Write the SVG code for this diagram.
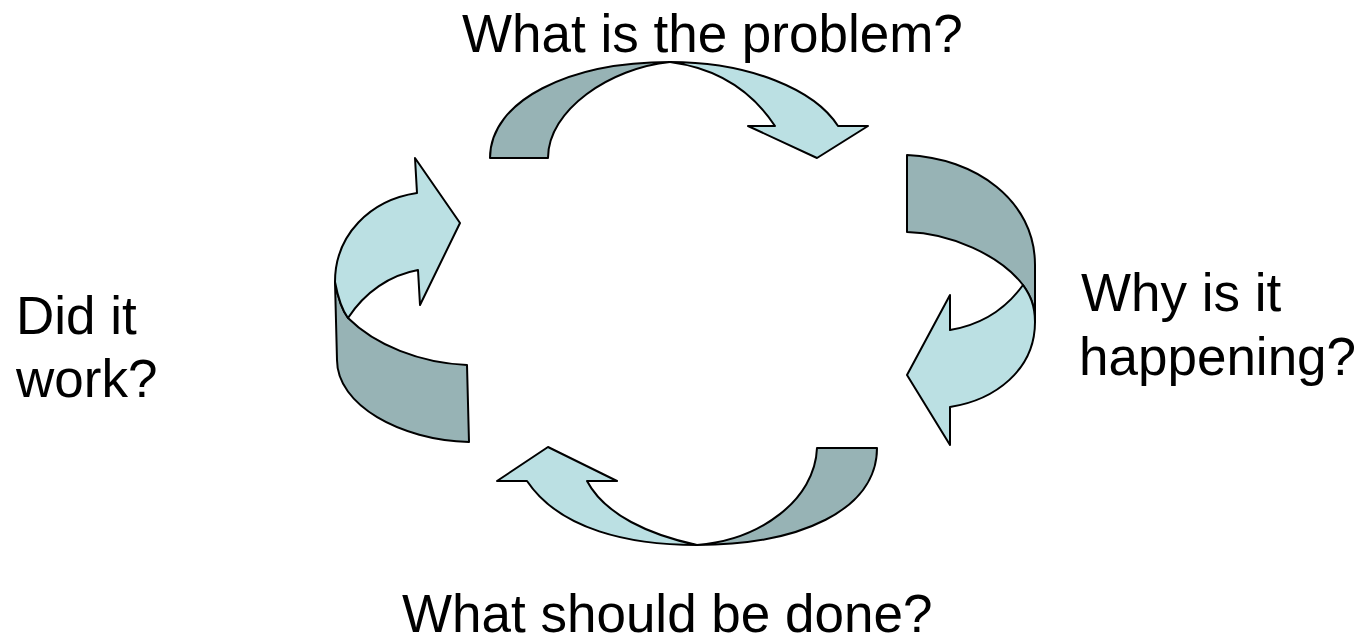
<svg xmlns="http://www.w3.org/2000/svg" width="1361" height="643" viewBox="0 0 1361 643">
<style>
.dark{fill:#97B3B5;stroke:#000;stroke-width:2;stroke-linejoin:round}
.light{fill:#BBE0E3;stroke:#000;stroke-width:2;stroke-linejoin:round}
text{font-family:"Liberation Sans",Arial,sans-serif;font-size:53px;fill:#000}
</style>
<rect width="1361" height="643" fill="#fff"/>
<g id="connectors">
<g id="arrow-top">
<path class="dark" d="M490,158 C490,100 570,62 670,62 C610,68 548,110 548,158 Z"/>
<path class="light" d="M670,62 C750,62 815,90 838,126 L868,126 L817,158 L748,126 L775,126 C750,88 715,68 670,62 Z"/>
</g>
<g id="arrow-right">
<path class="dark" d="M907,155 C975,158 1035,200 1035,265 L1035,322 C1035,305 1030,295 1023,285 C1000,255 950,233 907,232 Z"/>
<path class="light" d="M1023,285 C1005,310 980,325 950,330 L950,295 L907,375 L950,445 L950,407 C995,400 1035,370 1035,322 C1035,305 1030,295 1023,285 Z"/>
</g>
<g id="arrow-bottom">
<path class="dark" d="M877,448 C877,510 800,545 697,545 C760,540 815,500 817,448 Z"/>
<path class="light" d="M697,545 C630,545 560,530 527,481 L497,481 L548,447 L617,481 L587,481 C605,515 650,535 697,545 Z"/>
</g>
<g id="arrow-left">
<path class="dark" d="M348,318 C375,345 420,363 467,365 L469,442 C400,440 337,405 337,360 L335,282 C338,298 342,310 348,318 Z"/>
<path class="light" d="M335,282 C335,235 370,200 417,193 L415,158 L460,223 L420,305 L418,270 C390,275 365,292 348,318 C342,310 338,298 335,282 Z"/>
</g>
</g>
<g id="label-top"><text x="462" y="52">What is the problem?</text></g>
<g id="label-right"><text x="1081" y="311">Why is it</text><text x="1079" y="375">happening?</text></g>
<g id="label-bottom"><text x="402" y="632">What should be done?</text></g>
<g id="label-left"><text x="16" y="334">Did it</text><text x="16" y="397">work?</text></g>
</svg>
